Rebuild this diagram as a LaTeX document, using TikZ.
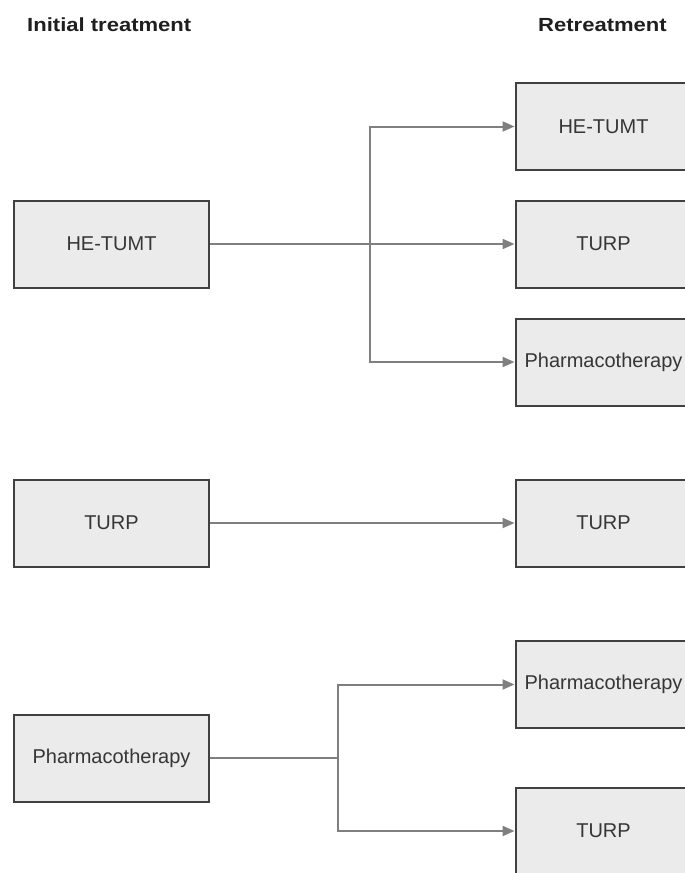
\documentclass[tikz,border=0pt]{standalone}
\usepackage{fontspec}
\setmainfont{Liberation Sans}
\newfontfamily\hdrfont[FakeStretch=1.16]{Liberation Sans}
\usetikzlibrary{arrows.meta}
\definecolor{boxfill}{HTML}{EBEBEB}
\definecolor{boxline}{HTML}{404040}
\definecolor{linkgray}{HTML}{7F7F7F}
\definecolor{txtgray}{HTML}{363636}
\tikzset{
  treatbox/.style={draw=boxline, line width=2pt, fill=boxfill, rectangle,
    minimum height=87pt, inner sep=0pt, text=txtgray,
    font=\fontsize{20}{24}\selectfont},
  leftbox/.style={treatbox, minimum width=195pt},
  rightbox/.style={treatbox, minimum width=176pt},
  header/.style={inner sep=0pt, anchor=west, text=black!88,
    font=\hdrfont\bfseries\fontsize{19}{22}\selectfont},
  link/.style={draw=linkgray, line width=2pt},
  arrowlink/.style={link, -{Triangle[length=12pt,width=10pt]}}
}
\begin{document}
\begin{tikzpicture}[x=1pt,y=-1pt]
\clip (0,0) rectangle (685,873);
\fill[white] (0,0) rectangle (685,873);
\node[header] (h1) at (27,25) {Initial treatment};
\node[header] (h2) at (538,25) {Retreatment};

\node[leftbox] (L1) at (111.5,244) {HE-TUMT};
\node[leftbox] (L2) at (111.5,523) {TURP};
\node[leftbox] (L3) at (111.5,758) {Pharmacotherapy};

\node[rightbox] (R1) at (603.5,126.5) {HE-TUMT};
\node[rightbox] (R2) at (603.5,244) {TURP};
\node[rightbox] (R3) at (603.5,362) {Pharmacotherapy};
\node[rightbox] (R4) at (603.5,523) {TURP};
\node[rightbox] (R5) at (603.5,684.5) {Pharmacotherapy};
\node[rightbox] (R6) at (603.5,831) {TURP};

\coordinate (b1) at (370,244);
\coordinate (b3) at (338,758);

\draw[arrowlink] (L1.east) -- (R2.west);
\draw[arrowlink] (b1) |- (R1.west);
\draw[arrowlink] (b1) |- (R3.west);
\draw[arrowlink] (L2.east) -- (R4.west);
\draw[link] (L3.east) -- (b3);
\draw[arrowlink] (b3) |- (R5.west);
\draw[arrowlink] (b3) |- (R6.west);
\end{tikzpicture}
\end{document}
